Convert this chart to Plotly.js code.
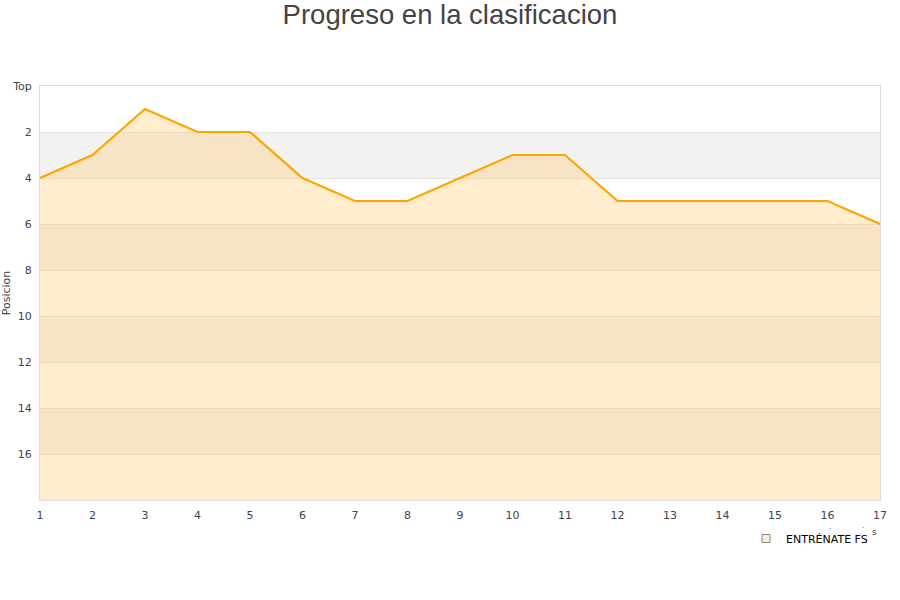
<!DOCTYPE html>
<html>
<head>
<meta charset="utf-8">
<script src="https://cdn.plot.ly/plotly-3.0.1.min.js"></script>
<style>html,body{margin:0;padding:0;background:#fff;}#chart{width:900px;height:600px;}</style>
</head>
<body>
<div id="chart"></div>
<script>
const jornadas = [1,2,3,4,5,6,7,8,9,10,11,12,13,14,15,16,17];
const posiciones = [4,3,1,2,2,4,5,5,4,3,3,5,5,5,5,5,6];
const teamName = "ENTRÉNATE FS";
const yTickVals = [0,2,4,6,8,10,12,14,16];
const yTickText = ["Top","2","4","6","8","10","12","14","16"];
const bandStarts = [2,6,10,14];
const maxPos = 18;

const shapes = bandStarts.map(s => ({
  type:'rect', xref:'paper', yref:'y', x0:0, x1:1, y0:s, y1:s+2,
  fillcolor:'#f2f2f2', line:{width:0}, layer:'below'
}));

const traces = [
  {x: jornadas, y: jornadas.map(()=>maxPos), mode:'lines', line:{width:0, color:'rgba(0,0,0,0)'}, showlegend:false, hoverinfo:'skip'},
  {x: jornadas, y: posiciones, mode:'lines', fill:'tonexty', fillcolor:'rgba(255,200,100,0.32)',
   line:{color:'#ffa500', width:2.2}, showlegend:false, name:teamName},
  {x:[null], y:[null], mode:'markers', name:teamName,
   marker:{symbol:'square', size:8, color:'#ffeecc', line:{color:'#888', width:1}}}
];

const layout = {
  width:900, height:600,
  margin:{l:40, r:20, t:86, b:100},
  paper_bgcolor:'#fff', plot_bgcolor:'#fff',
  title:{text:'Progreso en la clasificacion', font:{family:'Liberation Sans, Arial, sans-serif', size:27.5, color:'#444'}, x:0.5, xanchor:'center', y:0.992, yanchor:'top'},
  font:{family:'DejaVu Sans, sans-serif', size:11, color:'#444'},
  xaxis:{range:[1,17], tickvals:jornadas, ticks:'', showgrid:false, zeroline:false,
    showline:true, linecolor:'#ddd', mirror:true, tickfont:{size:11, color:'#444'}, ticklabelstandoff:5},
  yaxis:{range:[maxPos,0], tickvals:yTickVals, ticktext:yTickText, ticks:'', showgrid:true,
    gridcolor:'#e3e3e3', zeroline:false, showline:true, linecolor:'#ddd', mirror:true,
    title:{text:'Posicion', font:{size:11, color:'#444'}, standoff:4}, tickfont:{size:11, color:'#444'}, ticklabelstandoff:5},
  shapes: shapes,
  showlegend:true,
  legend:{x:0.8405, y:-0.058, xanchor:'left', yanchor:'top', font:{size:11, color:'#000'}, bgcolor:'rgba(0,0,0,0)'},
  annotations:[
    {text:'s', xref:'paper', yref:'paper', x:0.994, y:-0.077, xanchor:'center', yanchor:'middle', showarrow:false, font:{size:9, color:'#444'}},
    {text:'.', xref:'paper', yref:'paper', x:0.94, y:-0.065, xanchor:'center', yanchor:'middle', showarrow:false, font:{size:7, color:'#444'}},
    {text:'.', xref:'paper', yref:'paper', x:0.98, y:-0.063, xanchor:'center', yanchor:'middle', showarrow:false, font:{size:7, color:'#444'}}
  ]
};

Plotly.newPlot('chart', traces, layout, {displayModeBar:false, staticPlot:true});
</script>
</body>
</html>
